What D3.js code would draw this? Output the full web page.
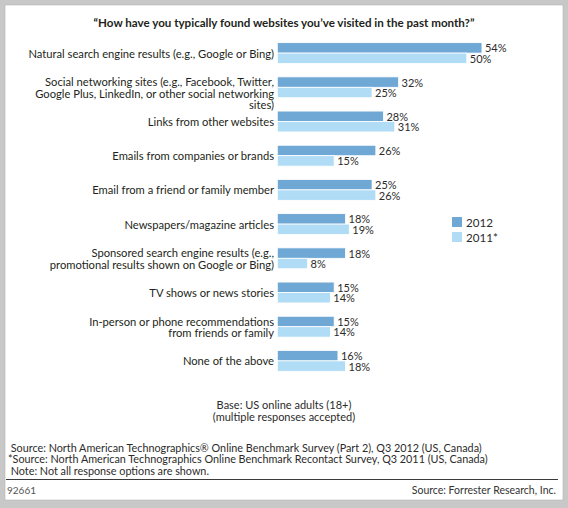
<!DOCTYPE html>
<html>
<head>
<meta charset="utf-8">
<script src="https://cdn.jsdelivr.net/npm/d3@7"></script>
<style>
  html, body { margin: 0; padding: 0; background: #c8c8c8; }
  svg { display: block; }
  text { font-family: Lato, "Open Sans", sans-serif; fill: #2b2b2b; }
</style>
</head>
<body>
<svg id="chart"></svg>
<script>
// ---- data ----
const categories = [
  'Natural search engine results (e.g., Google or Bing)',
  'Social networking sites (e.g., Facebook, Twitter,\nGoogle Plus, LinkedIn, or other social networking\nsites)',
  'Links from other websites',
  'Emails from companies or brands',
  'Email from a friend or family member',
  'Newspapers/magazine articles',
  'Sponsored search engine results (e.g.,\npromotional results shown on Google or Bing)',
  'TV shows or news stories',
  'In-person or phone recommendations\nfrom friends or family',
  'None of the above'
];
const seriesNames = ['2012', '2011*'];
const values2012 = [54, 32, 28, 26, 25, 18, 18, 15, 15, 16];
const values2011 = [50, 25, 31, 15, 26, 19, 8, 14, 14, 18];

const titleText = '\u201CHow have you typically found websites you\u2019ve visited in the past month?\u201D';
const baseLines = ['Base: US online adults (18+)', '(multiple responses accepted)'];
const sourceLines = [
  ' Source: North American Technographics\u00AE Online Benchmark Survey (Part 2), Q3 2012 (US, Canada)',
  '*Source: North American Technographics Online Benchmark Recontact Survey, Q3 2011 (US, Canada)',
  ' Note: Not all response options are shown.'
];
const docId = '92661';
const credit = 'Source: Forrester Research, Inc.';

const W = 568, H = 508;
const COLORS = { '2012': '#6fa7d5', '2011*': '#b1dcf6' };

const svg = d3.select('#chart').attr('width', W).attr('height', H);

// panel
svg.append('rect').attr('x', 5).attr('y', 5).attr('width', 558).attr('height', 495)
  .attr('fill', '#fff').attr('stroke', '#b4b4b4').attr('stroke-width', 0.6);

svg.append('text').attr('x', 284).attr('y', 22).attr('text-anchor', 'middle')
  .attr('dominant-baseline', 'central').attr('font-size', '11.6px').attr('font-weight', 'bold')
  .style('fill', '#231f20').text(titleText);

const rows = categories.map((c, i) => ({ cat: c, vals: [values2012[i], values2011[i]] }));

const x = d3.scaleLinear().domain([0, 60]).range([277.3, 504.7]);
const y = d3.scaleBand().domain(categories).range([36, 378]).paddingInner(0.39).paddingOuter(0.195);
const ySub = d3.scaleBand().domain(seriesNames).range([0, y.bandwidth()]);

const g = svg.append('g');
const grp = g.selectAll('g.row').data(rows).enter().append('g')
  .attr('class', 'row').attr('transform', d => `translate(0,${y(d.cat)})`);

grp.selectAll('rect').data(d => d.vals.map((v, k) => ({ s: seriesNames[k], v }))).enter().append('rect')
  .attr('x', x(0)).attr('y', d => ySub(d.s))
  .attr('width', d => x(d.v) - x(0)).attr('height', ySub.bandwidth())
  .attr('fill', d => COLORS[d.s]).attr('stroke', '#fff').attr('stroke-width', 0.8);

grp.selectAll('text.val').data(d => d.vals.map((v, k) => ({ s: seriesNames[k], v }))).enter().append('text')
  .attr('class', 'val').attr('x', d => x(d.v) + 3).attr('y', d => ySub(d.s) + ySub.bandwidth() / 2)
  .attr('dominant-baseline', 'central').attr('font-size', '11px').text(d => d.v + '%');

// category labels
grp.each(function(d) {
  const lines = d.cat.split('\n');
  const mid = y.bandwidth() / 2;
  const t = d3.select(this).append('text').attr('text-anchor', 'end').attr('font-size', '11.2px')
    .style('fill', '#231f20');
  lines.forEach((ln, j) => {
    const cy = lines.length === 1 ? mid : mid - 5.5 + j * 11.3;
    t.append('tspan').attr('x', 274).attr('y', cy).attr('dominant-baseline', 'central').text(ln);
  });
});

// legend
const lg = svg.append('g').selectAll('g').data(seriesNames).enter().append('g')
  .attr('transform', (d, i) => `translate(452,${217 + i * 15})`);
lg.append('rect').attr('width', 10).attr('height', 10).attr('fill', d => COLORS[d]);
lg.append('text').attr('x', 14).attr('y', 5).attr('dominant-baseline', 'central')
  .attr('font-size', '11.6px').text(d => d);

// base note
svg.append('g').selectAll('text').data(baseLines).enter().append('text')
  .attr('x', 284).attr('y', (d, i) => 404 + i * 12).attr('text-anchor', 'middle')
  .attr('dominant-baseline', 'central').attr('font-size', '11px').text(d => d);

// sources
svg.append('g').selectAll('text').data(sourceLines).enter().append('text')
  .attr('x', 8).attr('y', (d, i) => 447 + i * 11.5).attr('dominant-baseline', 'central')
  .attr('font-size', '10.8px').style('white-space', 'pre').attr('xml:space', 'preserve').text(d => d);

svg.append('line').attr('x1', 6).attr('x2', 558).attr('y1', 479.5).attr('y2', 479.5)
  .attr('stroke', '#3a3a3a').attr('stroke-width', 1);

svg.append('text').attr('x', 7).attr('y', 490).attr('dominant-baseline', 'central')
  .attr('font-size', '10px').style('fill', '#555').text(docId);
svg.append('text').attr('x', 556).attr('y', 490).attr('text-anchor', 'end').attr('dominant-baseline', 'central')
  .attr('font-size', '10.5px').style('fill', '#333').text(credit);
</script>
</body>
</html>
